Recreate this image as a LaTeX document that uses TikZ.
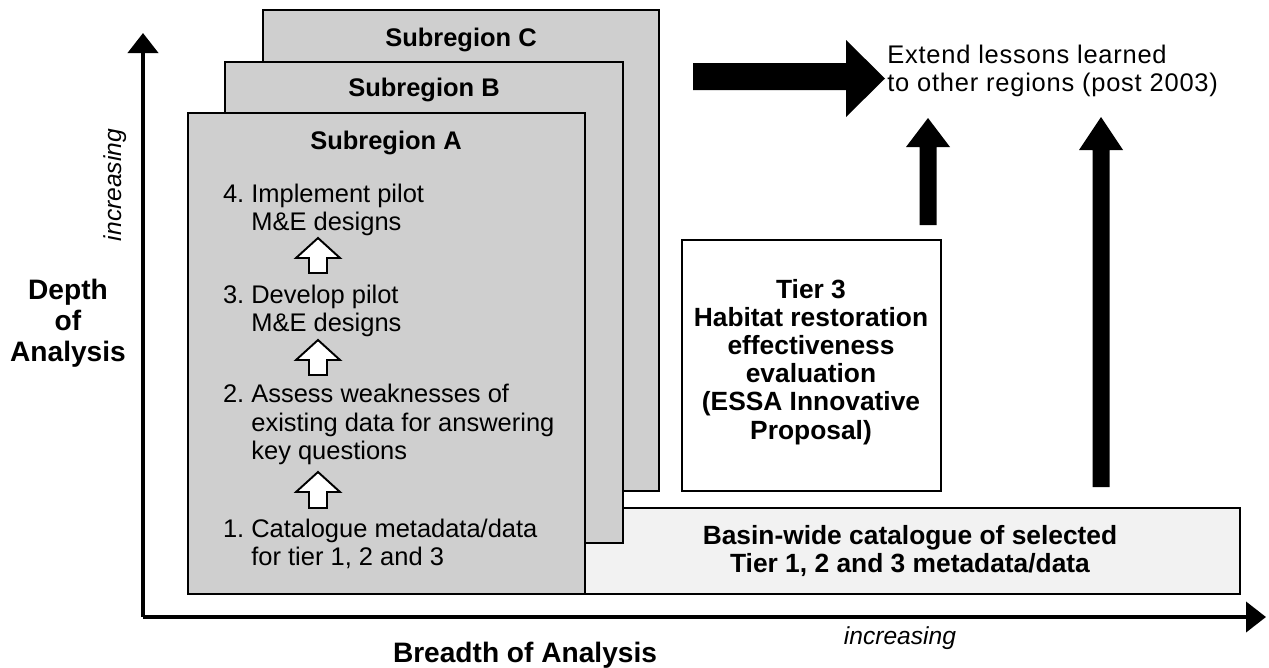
\documentclass[tikz,border=0pt]{standalone}
\usepackage{fontspec}
\setmainfont{Liberation Sans}
\newfontfamily\spacedfont[LetterSpace=3]{Liberation Sans}
\usetikzlibrary{arrows.meta,calc}
\begin{document}
\begin{tikzpicture}[x=0.02cm,y=-0.02cm,
  subbox/.style={draw=black,line width=1.6pt,fill=black!19},
  basinbox/.style={draw=black,line width=1.4pt,fill=black!5},
  tierbox/.style={draw=black,line width=1.4pt,fill=white},
  sublabel/.style={font=\fontsize{14.5}{16}\selectfont\bfseries},
  steptext/.style={font=\fontsize{14.5}{16}\selectfont,align=left,anchor=west,inner sep=0pt},
  boldtext/.style={font=\fontsize{15}{16}\selectfont\bfseries,align=center,inner sep=0pt},
  axislabel/.style={font=\fontsize{16}{17.6}\selectfont\bfseries,align=center,inner sep=0pt},
  axis/.style={line width=2.3pt,-{Triangle[width=0.6cm,length=0.4cm]}},
  hollow/.style={draw=black,line width=1.1pt,fill=white,line join=miter},
  solidarrow/.style={fill=black}
]
\useasboundingbox (0,0) rectangle (1269,667);
% axes
\coordinate (origin) at (143,617);
\coordinate (ytip) at (143,33);
\coordinate (xtip) at (1266,617);
\draw[axis] (origin) -- (ytip);
\draw[axis] (origin) -- (xtip);
% boxes (back to front)
\draw[subbox] (263,10) rectangle (659,491);
\node[sublabel] (labC) at (461,40) {Subregion C};
\draw[basinbox] (585,508) rectangle (1240,594);
\node[boldtext] (basin) at (910,551) {Basin-wide catalogue of selected\\Tier 1, 2 and 3 metadata/data};
\draw[subbox] (225,62) rectangle (623,543);
\node[sublabel] (labB) at (424,90) {Subregion B};
\draw[subbox] (188,113) rectangle (585,594);
\node[sublabel] (labA) at (386,143) {Subregion A};
\draw[tierbox] (682,240) rectangle (941,491);
\node[boldtext] (tier) at (811,362) {Tier 3\\Habitat restoration\\effectiveness\\evaluation\\(ESSA Innovative\\Proposal)};
% steps
\node[steptext] (s4) at (251,210) {\llap{4.\ }Implement pilot\\M\&E designs};
\node[steptext] (s3) at (251,311) {\llap{3.\ }Develop pilot\\M\&E designs};
\node[steptext] (s2) at (251,424.5) {\llap{2.\ }Assess weaknesses of\\existing data for answering\\key questions};
\node[steptext] (s1) at (251,543.5) {\llap{1.\ }Catalogue metadata/data\\for tier 1, 2 and 3};
% hollow block arrows between steps
\foreach \t/\b in {238/273,340/375,472/508}{
  \draw[hollow] (318,\t) -- (340,\t+20) -- (327,\t+20) -- (327,\b) -- (309,\b) -- (309,\t+20) -- (296,\t+20) -- cycle;
}
% extend text
\node[font=\fontsize{14.5}{15.5}\selectfont\spacedfont,align=left,anchor=west,inner sep=0pt] (ext) at (887,71) {Extend lessons learned\\to other regions (post 2003)};
% big right arrow
\fill[solidarrow] (693,63) -- (846,63) -- (846,40) -- (885,78.5) -- (846,117) -- (846,90) -- (693,90) -- cycle;
% vertical black arrows
\fill[solidarrow] (919.5,225) -- (919.5,147) -- (906,147) -- (928,118) -- (950,147) -- (936.5,147) -- (936.5,225) -- cycle;
\fill[solidarrow] (1092.5,487) -- (1092.5,150) -- (1079,150) -- (1101,117) -- (1123,150) -- (1109.5,150) -- (1109.5,487) -- cycle;
% axis labels
\node[axislabel] (depth) at (68,323) {Depth\\of\\Analysis};
\node[font=\fontsize{14}{16}\selectfont\itshape,rotate=90,inner sep=0pt] (incy) at (115,185) {increasing};
\node[axislabel] (breadth) at (525,655) {Breadth of Analysis};
\node[font=\fontsize{14}{16}\selectfont\itshape,inner sep=0pt] (incx) at (900,638) {increasing};
\end{tikzpicture}
\end{document}
